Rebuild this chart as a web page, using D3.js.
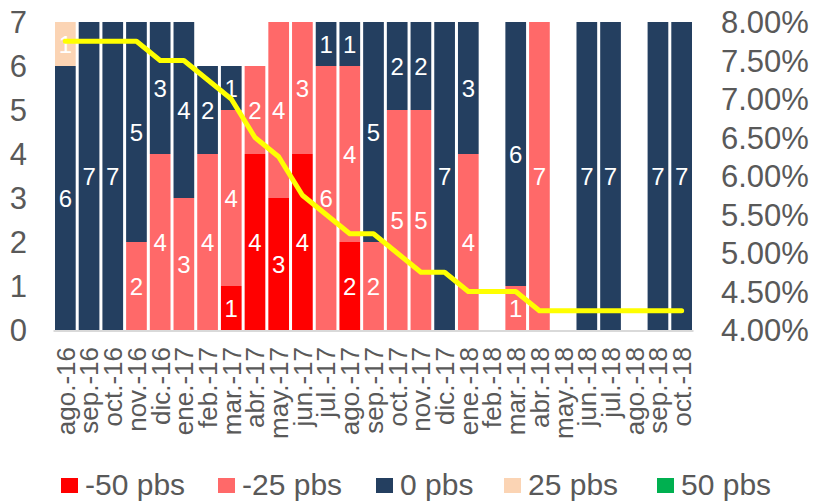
<!DOCTYPE html>
<html>
<head>
<meta charset="utf-8">
<script src="https://cdn.jsdelivr.net/npm/d3@7"></script>
<style>
    body { margin: 0; background: #fff; }
    text { font-family: "Liberation Sans", Arial, sans-serif; }
    .axis text { fill: #595959; }
</style>
</head>
<body>
<div id="chart"></div>
<script>
var months = ["ago.-16", "sep.-16", "oct.-16", "nov.-16", "dic.-16", "ene.-17", "feb.-17", "mar.-17",
    "abr.-17", "may.-17", "jun.-17", "jul.-17", "ago.-17", "sep.-17", "oct.-17", "nov.-17", "dic.-17",
    "ene.-18", "feb.-18", "mar.-18", "abr.-18", "may.-18", "jun.-18", "jul.-18", "ago.-18", "sep.-18", "oct.-18"];

// votes per decision (number of board members)
var m50 = [0, 0, 0, 0, 0, 0, 0, 1, 4, 3, 4, 0, 2, 0, 0, 0, 0, 0, 0, 0, 0, 0, 0, 0, 0, 0, 0];
var m25 = [0, 0, 0, 2, 4, 3, 4, 4, 2, 4, 3, 6, 4, 2, 5, 5, 0, 4, 0, 1, 7, 0, 0, 0, 0, 0, 0];
var z0  = [6, 7, 7, 5, 3, 4, 2, 1, 0, 0, 0, 1, 1, 5, 2, 2, 7, 3, 0, 6, 0, 0, 7, 7, 0, 7, 7];
var p25 = [1, 0, 0, 0, 0, 0, 0, 0, 0, 0, 0, 0, 0, 0, 0, 0, 0, 0, 0, 0, 0, 0, 0, 0, 0, 0, 0];
var p50 = [0, 0, 0, 0, 0, 0, 0, 0, 0, 0, 0, 0, 0, 0, 0, 0, 0, 0, 0, 0, 0, 0, 0, 0, 0, 0, 0];

// policy rate (%)
var rate = [7.75, 7.75, 7.75, 7.75, 7.50, 7.50, 7.25, 7.00, 6.50, 6.25, 5.75, 5.50, 5.25, 5.25,
    5.00, 4.75, 4.75, 4.50, 4.50, 4.50, 4.25, 4.25, 4.25, 4.25, 4.25, 4.25, 4.25];

var seriesNames = ["-50 pbs", "-25 pbs", "0 pbs", "25 pbs", "50 pbs"];
var leftTicks = [0, 1, 2, 3, 4, 5, 6, 7];
var rightTicks = [4, 4.5, 5, 5.5, 6, 6.5, 7, 7.5, 8];

(function () {
    "use strict";
    var W = 814, H = 502,
        top = 22, bottom = 330,
        colors = ["#ff0000", "#ff6969", "#243f60", "#fbd4b4", "#00b050"],
        keys = ["m50", "m25", "z0", "p25", "p50"],
        table = months.map(function (m, i) {
            return {month: m, m50: m50[i], m25: m25[i], z0: z0[i], p25: p25[i], p50: p50[i], rate: rate[i]};
        }),
        stack = d3.stack().keys(keys)(table),

        x = d3.scaleBand()
            .domain(months)
            .range([53.5, 693.5])
            .paddingInner(0.127)
            .paddingOuter(0.0635),

        y = d3.scaleLinear().domain([0, 7]).range([bottom, top]),
        y2 = d3.scaleLinear().domain([4, 8]).range([bottom, top]),

        svg = d3.select("#chart").append("svg")
            .attr("width", W)
            .attr("height", H);

    var layers = svg.append("g").selectAll("g")
        .data(stack)
        .enter().append("g")
        .attr("fill", function (d, i) { return colors[i]; });

    layers.selectAll("rect")
        .data(function (d) { return d; })
        .enter().filter(function (d) { return d[1] - d[0] > 0; })
        .append("rect")
        .attr("x", function (d) { return x(d.data.month); })
        .attr("width", x.bandwidth())
        .attr("y", function (d) { return y(d[1]); })
        .attr("height", function (d) { return y(d[0]) - y(d[1]); });

    layers.selectAll("text")
        .data(function (d) { return d; })
        .enter().filter(function (d) { return d[1] - d[0] > 0; })
        .append("text")
        .attr("x", function (d) { return x(d.data.month) + x.bandwidth() / 2; })
        .attr("y", function (d) { return y((d[0] + d[1]) / 2); })
        .attr("dy", "0.36em")
        .attr("text-anchor", "middle")
        .attr("fill", "#fff")
        .style("font-size", "24px")
        .text(function (d) { return d[1] - d[0]; });

    // base line
    svg.append("line")
        .attr("x1", x.range()[0]).attr("x2", x.range()[1])
        .attr("y1", bottom + 1).attr("y2", bottom + 1)
        .attr("stroke", "#d9d9d9")
        .attr("stroke-width", 2);

    // policy rate
    svg.append("path")
        .datum(table)
        .attr("fill", "none")
        .attr("stroke", "#ffff00")
        .attr("stroke-width", 5)
        .attr("stroke-linejoin", "round")
        .attr("stroke-linecap", "round")
        .attr("d", d3.line()
            .x(function (d) { return x(d.month) + x.bandwidth() / 2; })
            .y(function (d) { return y2(d.rate); }));

    // left axis
    svg.append("g")
        .attr("class", "axis")
        .selectAll("text")
        .data(leftTicks)
        .enter().append("text")
        .attr("x", 27)
        .attr("y", function (d) { return y(d); })
        .attr("dy", "0.36em")
        .attr("text-anchor", "end")
        .style("font-size", "31px")
        .text(function (d) { return d; });

    // right axis
    svg.append("g")
        .attr("class", "axis")
        .selectAll("text")
        .data(rightTicks)
        .enter().append("text")
        .attr("x", 721)
        .attr("y", function (d) { return y2(d); })
        .attr("dy", "0.36em")
        .style("font-size", "31px")
        .text(function (d) { return d3.format(".2f")(d) + "%"; });

    // month labels
    svg.append("g")
        .attr("class", "axis")
        .selectAll("text")
        .data(months)
        .enter().append("text")
        .attr("transform", function (d) {
            return "translate(" + (x(d) + x.bandwidth() / 2) + "," + (bottom + 17) + ") rotate(-90)";
        })
        .attr("dy", "0.36em")
        .attr("text-anchor", "end")
        .style("font-size", "26px")
        .text(function (d) { return d; });

    // legend
    var legX = [61, 218, 376, 504, 657],
        leg = svg.append("g").attr("class", "axis")
            .selectAll("g")
            .data(seriesNames)
            .enter().append("g")
            .attr("transform", function (d, i) { return "translate(" + legX[i] + ",478)"; });
    leg.append("rect")
        .attr("width", 17)
        .attr("height", 15)
        .attr("fill", function (d, i) { return colors[i]; });
    leg.append("text")
        .attr("x", 24)
        .attr("y", 17)
        .style("font-size", "30px")
        .text(function (d) { return d; });
}());
</script>
</body>
</html>
